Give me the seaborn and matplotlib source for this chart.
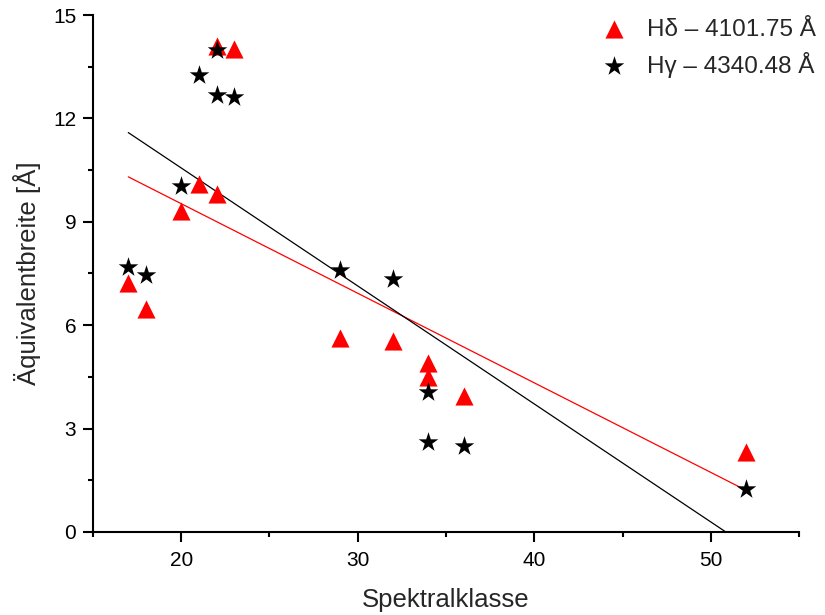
import numpy as np
import pandas as pd
import matplotlib
matplotlib.use("Agg")
import matplotlib.pyplot as plt
import seaborn as sns
from matplotlib.ticker import MultipleLocator

# Spektralklasse values (shared by both lines)
klasse = [17, 18, 20, 21, 22, 22, 23, 29, 32, 34, 34, 36, 52]
# equivalent widths
h_delta = [7.22, 6.47, 9.31, 10.1, 9.8, 14.1, 14.0, 5.63, 5.54, 4.9, 4.5, 3.95, 2.32]
h_gamma = [7.69, 7.45, 10.04, 13.26, 12.68, 13.98, 12.62, 7.6, 7.34, 4.06, 2.61, 2.49, 1.25]

labels = ["H\u03b4 \u2013 4101.75 \u00c5", "H\u03b3 \u2013 4340.48 \u00c5"]

df = pd.DataFrame({"klasse": klasse, "delta": h_delta, "gamma": h_gamma})

sns.set_style("ticks")
plt.rcParams["font.family"] = ["Liberation Sans", "DejaVu Sans"]

fig = plt.figure(figsize=(8.25, 6.15), dpi=100)
ax = fig.add_axes([0.1127, 0.135, 0.8558, 0.8406])

sns.regplot(data=df, x="klasse", y="delta", ax=ax, ci=None, truncate=True,
            marker="^", color="red", label=labels[0],
            scatter_kws={"s": 170, "linewidths": 0, "zorder": 3, "alpha": 1},
            line_kws={"lw": 0.9, "color": "red", "label": None})
sns.regplot(data=df, x="klasse", y="gamma", ax=ax, ci=None, truncate=True,
            marker="*", color="black", label=labels[1],
            scatter_kws={"s": 220, "linewidths": 0, "zorder": 4, "alpha": 1},
            line_kws={"lw": 0.9, "color": "black", "label": None})

ax.set_xlim(15, 55)
ax.set_ylim(0, 15)
ax.xaxis.set_major_locator(MultipleLocator(10))
ax.xaxis.set_minor_locator(MultipleLocator(5))
ax.yaxis.set_major_locator(MultipleLocator(3))
ax.yaxis.set_minor_locator(MultipleLocator(1.5))

sns.despine(ax=ax)
for s in ["left", "bottom"]:
    ax.spines[s].set_linewidth(1.5)
    ax.spines[s].set_color("black")
ax.tick_params(which="major", length=7, width=1.5, labelsize=15, pad=5,
               direction="out", colors="black")
ax.tick_params(axis="x", which="major", pad=7)
ax.tick_params(which="minor", length=3.6, width=1.5, direction="out", colors="black")

ax.set_xlabel("Spektralklasse", fontsize=18.5, labelpad=13)
ax.set_ylabel("\u00c4quivalentbreite [\u00c5]", fontsize=18.5, labelpad=9)

handles, labs = ax.get_legend_handles_labels()
keep = [(h, l) for h, l in zip(handles, labs) if l in labels]
ax.legend([k[0] for k in keep], [k[1] for k in keep], loc="upper right",
          bbox_to_anchor=(1.055, 1.035), frameon=False, fontsize=17.5,
          handletextpad=0.55, labelspacing=0.45, handlelength=1.6)

fig.savefig("out.png", dpi=100)
